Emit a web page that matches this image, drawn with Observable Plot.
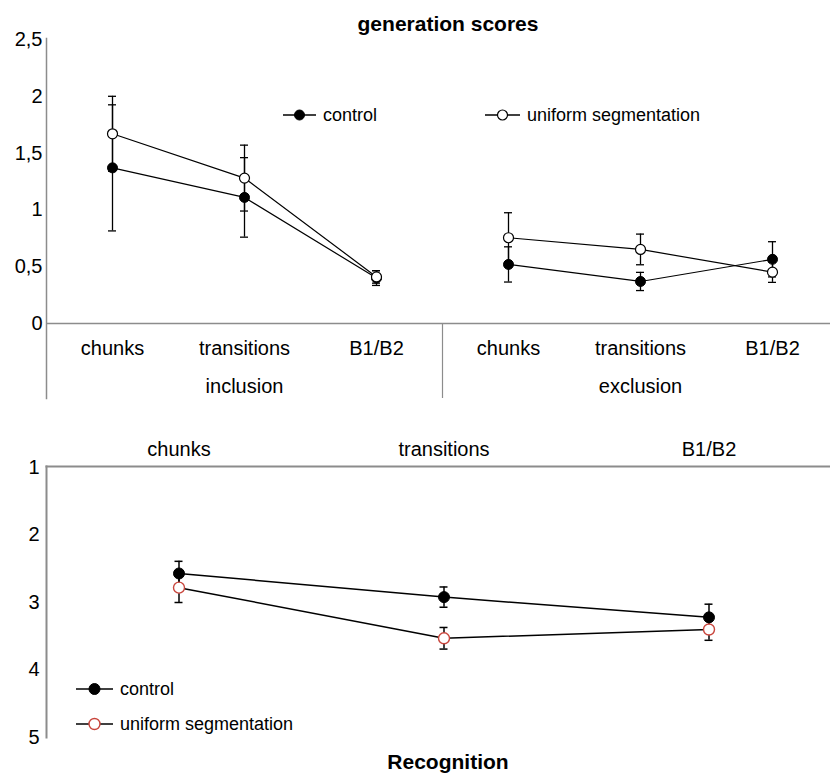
<!DOCTYPE html>
<html>
<head>
<meta charset="utf-8">
<script src="https://cdn.jsdelivr.net/npm/d3@7"></script>
<script src="https://cdn.jsdelivr.net/npm/@observablehq/plot@0.6"></script>
<style>
  body { margin: 0; background: #fff; font-family: "Liberation Sans", Arial, sans-serif; }
  #wrap { position: relative; width: 830px; height: 773px; overflow: hidden; background: #fff; }
  #top, #bottom { position: absolute; left: 0; }
  #top { top: 0; }
  #bottom { top: 400px; }
  .t { position: absolute; white-space: nowrap; color: #000; line-height: 1; }
  .leg { position: absolute; display: flex; align-items: center; white-space: nowrap; font-size: 18px; color: #000; }
  .leg svg { display: block; }
</style>
</head>
<body>
<div id="wrap">
  <div id="top"></div>
  <div id="bottom"></div>
</div>
<script>
// ---------- data ----------
const categories = ["chunks", "transitions", "B1/B2"];
const groups = ["inclusion", "exclusion"];
const seriesNames = ["control", "uniform segmentation"];

// generation scores: inclusion (chunks, transitions, B1/B2), then exclusion (chunks, transitions, B1/B2)
const genControl = [1.37, 1.11, 0.40, 0.52, 0.37, 0.565];
const genControlErr = [0.555, 0.35, 0.065, 0.155, 0.08, 0.155];
const genUniform = [1.67, 1.28, 0.41, 0.755, 0.652, 0.452];
const genUniformErr = [0.33, 0.29, 0.055, 0.22, 0.135, 0.09];
const genTicks = [0, 0.5, 1, 1.5, 2, 2.5];

// recognition (chunks, transitions, B1/B2)
const recControl = [2.57, 2.92, 3.22];
const recControlErr = [0.18, 0.15, 0.195];
const recUniform = [2.78, 3.53, 3.40];
const recUniformErr = [0.22, 0.16, 0.16];
const recTicks = [1, 2, 3, 4, 5];

const titleTop = "generation scores";
const titleBottom = "Recognition";

// ---------- styles ----------
const FONT = '"Liberation Sans", Arial, sans-serif';
const AXIS = "#8c8c8c";
const RED = "#c9463d";
const TICKFS = 20;

// ---------- build tables ----------
const genKeys = groups.flatMap(g => categories.map(c => g + "|" + c));
const genRows = [];
groups.forEach((g, gi) => categories.forEach((c, ci) => {
  const i = gi * categories.length + ci;
  genRows.push({key: g + "|" + c, group: g, cat: c, series: seriesNames[0], value: genControl[i], err: genControlErr[i]});
  genRows.push({key: g + "|" + c, group: g, cat: c, series: seriesNames[1], value: genUniform[i], err: genUniformErr[i]});
}));
const genLabels = genKeys.map(k => ({key: k, cat: k.split("|")[1]}));

const recRows = [];
categories.forEach((c, i) => {
  recRows.push({cat: c, series: seriesNames[0], value: recControl[i], err: recControlErr[i]});
  recRows.push({cat: c, series: seriesNames[1], value: recUniform[i], err: recUniformErr[i]});
});

// ---------- top chart ----------
const W = 830;
const xTopRange = [46, 838];
const bwTop = (xTopRange[1] - xTopRange[0]) / genKeys.length;
const cap = 4;

const topPlot = Plot.plot({
  width: W, height: 400,
  marginLeft: 46, marginRight: 0, marginTop: 38, marginBottom: 2,
  style: {fontFamily: FONT, fontSize: TICKFS + "px", color: "#000", background: "transparent", overflow: "visible"},
  x: {type: "band", domain: genKeys, range: xTopRange, padding: 0, axis: null},
  y: {domain: [0, 2.5], range: [323, 39]},
  marks: [
    Plot.frame({anchor: "left", stroke: AXIS, strokeWidth: 1.5}),
    Plot.ruleY([0], {stroke: AXIS, strokeWidth: 1.5}),
    Plot.ruleX([groups[1] + "|" + categories[0]], {x: d => d, y1: 0, y2: null, dx: -bwTop / 2, stroke: AXIS, strokeWidth: 1.2}),
    Plot.axisY({ticks: genTicks, tickSize: 0, tickPadding: 4, label: null, fontSize: TICKFS,
                tickFormat: d => String(d).replace(".", ",")}),
    Plot.text(genLabels, {x: "key", y: () => 0, text: "cat", dy: 25, fontSize: 20}),
    Plot.text(groups, {x: g => g + "|" + categories[1], y: () => 0, text: d => d, dy: 63, fontSize: 20}),
    Plot.ruleX(genRows, {x: "key", y1: d => d.value - d.err, y2: d => d.value + d.err, stroke: "#000", strokeWidth: 1.3}),
    Plot.tickY(genRows, {x: "key", y: d => d.value - d.err, insetLeft: bwTop / 2 - cap, insetRight: bwTop / 2 - cap, stroke: "#000", strokeWidth: 1.3}),
    Plot.tickY(genRows, {x: "key", y: d => d.value + d.err, insetLeft: bwTop / 2 - cap, insetRight: bwTop / 2 - cap, stroke: "#000", strokeWidth: 1.3}),
    Plot.line(genRows, {x: "key", y: "value", z: d => d.series + d.group, stroke: "#000", strokeWidth: 1.2}),
    Plot.dot(genRows.filter(d => d.series === seriesNames[0]), {x: "key", y: "value", r: 5, fill: "#000", stroke: "#000", strokeWidth: 1}),
    Plot.dot(genRows.filter(d => d.series === seriesNames[1]), {x: "key", y: "value", r: 5, fill: "#fff", stroke: "#000", strokeWidth: 1.2})
  ]
});
document.getElementById("top").appendChild(topPlot);

// ---------- bottom chart ----------
const xBotRange = [46, 841];
const bwBot = (xBotRange[1] - xBotRange[0]) / categories.length;

const botPlot = Plot.plot({
  width: W, height: 373,
  marginLeft: 46, marginRight: 0, marginTop: 66, marginBottom: 36,
  style: {fontFamily: FONT, fontSize: TICKFS + "px", color: "#000", background: "transparent", overflow: "visible"},
  x: {type: "band", domain: categories, range: xBotRange, padding: 0, axis: null},
  y: {domain: [1, 5], range: [67, 337]},
  marks: [
    Plot.frame({anchor: "left", stroke: AXIS, strokeWidth: 2}),
    Plot.frame({anchor: "top", stroke: AXIS, strokeWidth: 2}),
    Plot.axisY({ticks: recTicks, tickSize: 0, tickPadding: 7, label: null, fontSize: TICKFS, tickFormat: d => String(d)}),
    Plot.text(categories, {x: d => d, y: () => 1, text: d => d, dy: -18, fontSize: 20}),
    Plot.ruleX(recRows, {x: "cat", y1: d => d.value - d.err, y2: d => d.value + d.err, stroke: "#000", strokeWidth: 1.5}),
    Plot.tickY(recRows, {x: "cat", y: d => d.value - d.err, insetLeft: bwBot / 2 - cap, insetRight: bwBot / 2 - cap, stroke: "#000", strokeWidth: 1.5}),
    Plot.tickY(recRows, {x: "cat", y: d => d.value + d.err, insetLeft: bwBot / 2 - cap, insetRight: bwBot / 2 - cap, stroke: "#000", strokeWidth: 1.5}),
    Plot.line(recRows, {x: "cat", y: "value", z: "series", stroke: "#000", strokeWidth: 1.5}),
    Plot.dot(recRows.filter(d => d.series === seriesNames[0]), {x: "cat", y: "value", r: 5.5, fill: "#000", stroke: "#000", strokeWidth: 1}),
    Plot.dot(recRows.filter(d => d.series === seriesNames[1]), {x: "cat", y: "value", r: 5.5, fill: "#fff", stroke: RED, strokeWidth: 1.4})
  ]
});
document.getElementById("bottom").appendChild(botPlot);

// ---------- titles ----------
const wrap = document.getElementById("wrap");
function addText(txt, cx, cy, size, bold) {
  const d = document.createElement("div");
  d.className = "t";
  d.textContent = txt;
  d.style.fontSize = size + "px";
  d.style.fontWeight = bold ? "bold" : "normal";
  d.style.left = cx + "px";
  d.style.top = cy + "px";
  d.style.transform = "translate(-50%, -50%)";
  wrap.appendChild(d);
}
addText(titleTop, 448, 23, 21, true);
addText(titleBottom, 448, 761, 21, true);

// ---------- legends ----------
function addLegend(label, left, cy, lineW, r, fill, stroke, sw) {
  const d = document.createElement("div");
  d.className = "leg";
  d.style.left = left + "px";
  d.style.top = (cy - 11) + "px";
  d.style.height = "22px";
  const s = d3.create("svg").attr("width", lineW).attr("height", 22);
  s.append("line").attr("x1", 0).attr("x2", lineW).attr("y1", 11).attr("y2", 11).attr("stroke", "#000").attr("stroke-width", 1.3);
  s.append("circle").attr("cx", lineW / 2).attr("cy", 11).attr("r", r).attr("fill", fill).attr("stroke", stroke).attr("stroke-width", sw);
  d.appendChild(s.node());
  const sp = document.createElement("span");
  sp.textContent = label;
  sp.style.marginLeft = "7px";
  d.appendChild(sp);
  wrap.appendChild(d);
}
addLegend(seriesNames[0], 283, 115, 33, 5, "#000", "#000", 1);
addLegend(seriesNames[1], 485, 115, 35, 5, "#fff", "#000", 1.2);
addLegend(seriesNames[0], 76, 689, 37, 5.5, "#000", "#000", 1);
addLegend(seriesNames[1], 76, 724, 37, 5.5, "#fff", RED, 1.4);
</script>
</body>
</html>
